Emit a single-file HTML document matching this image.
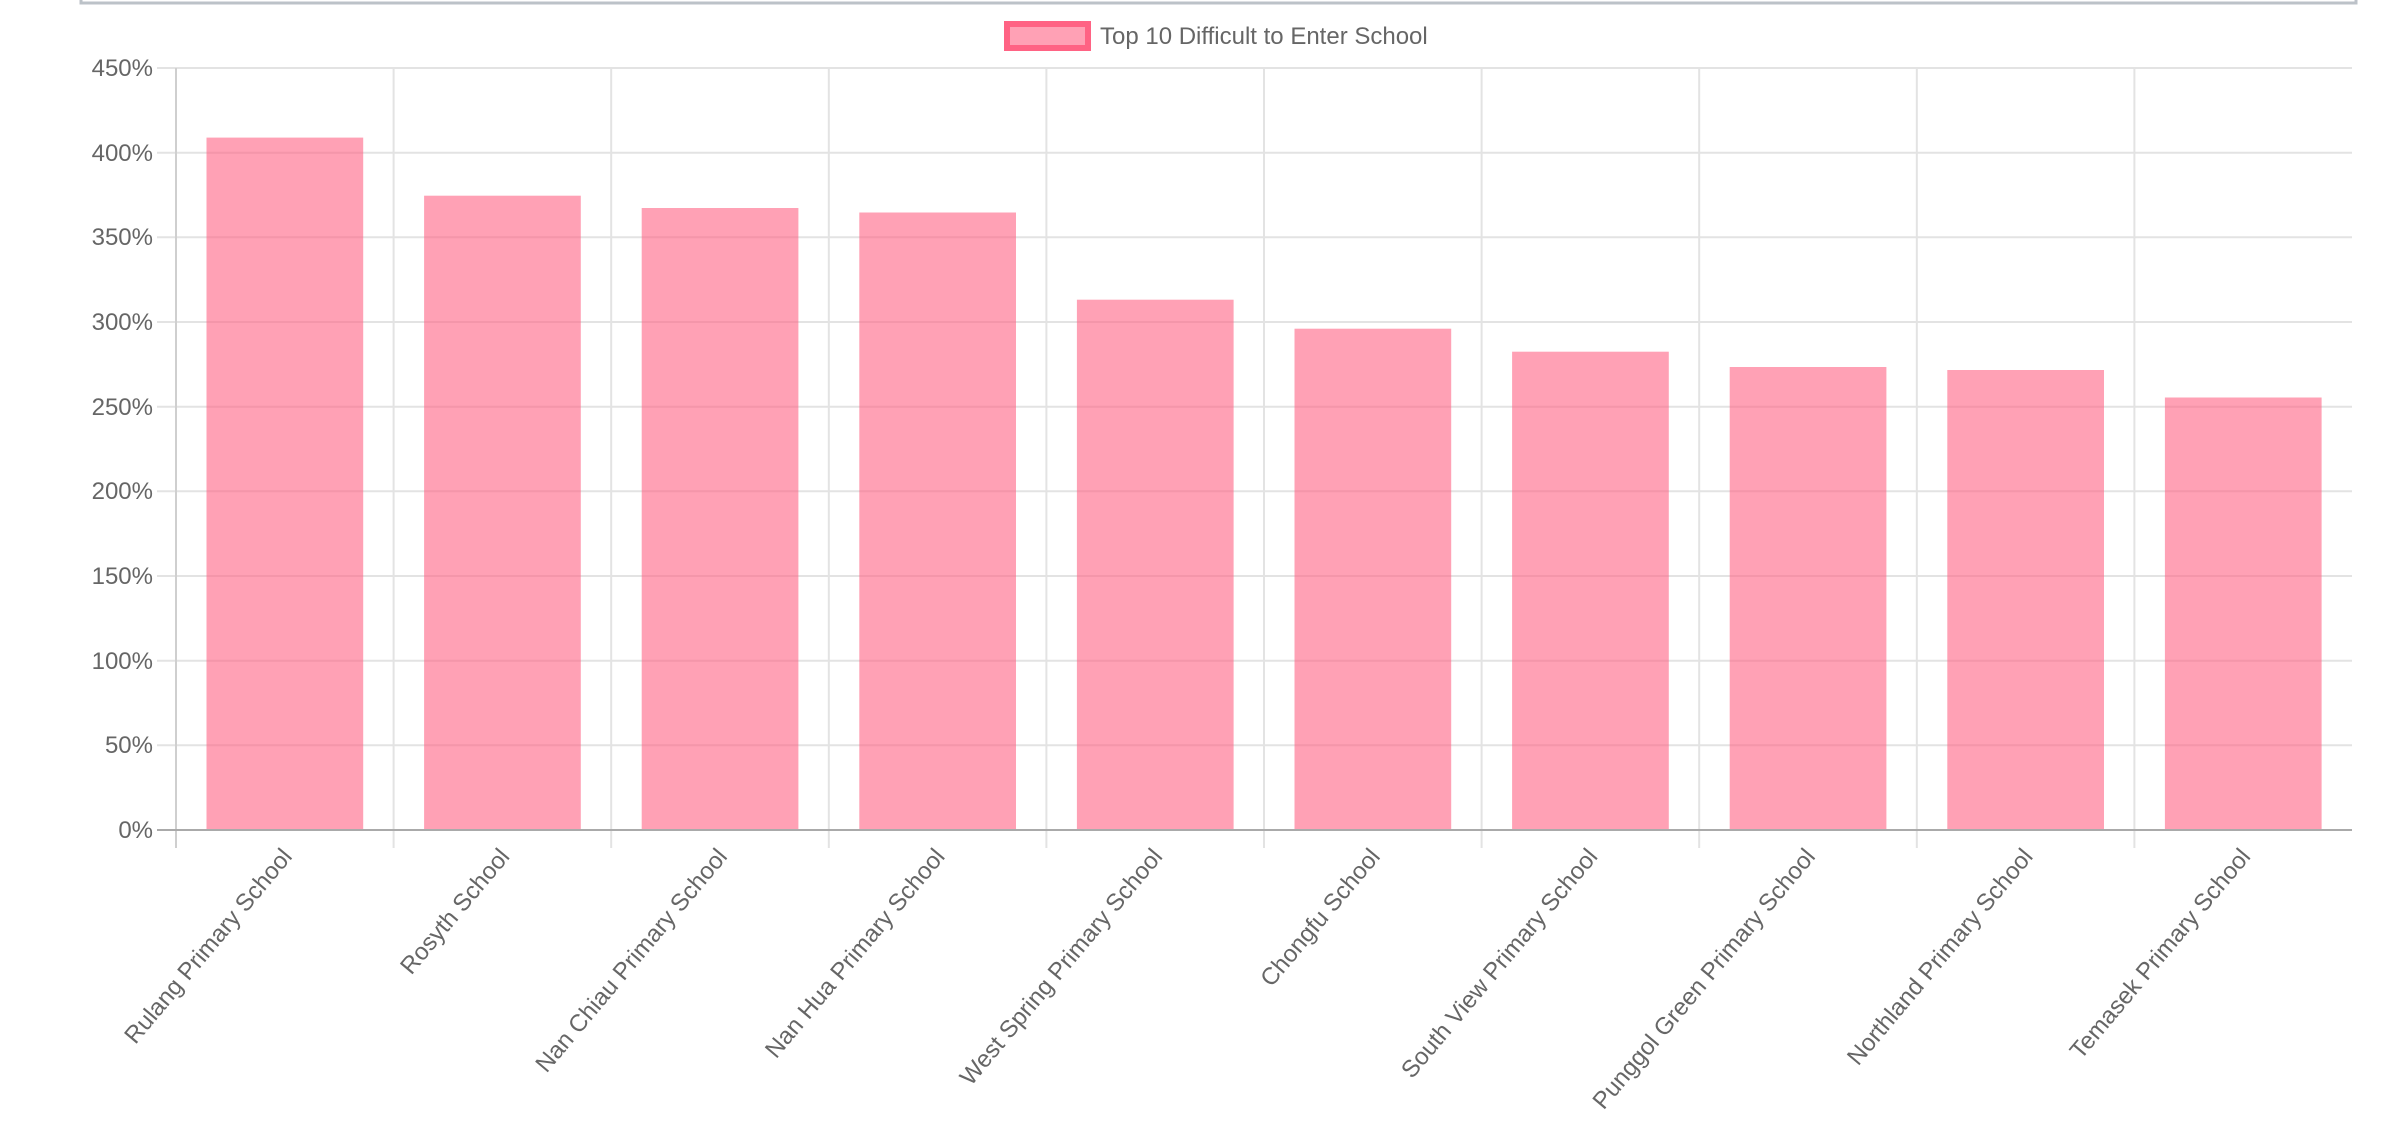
<!DOCTYPE html>
<html><head><meta charset="utf-8"><style>
html,body{margin:0;padding:0;background:#fff;}
svg{display:block;font-family:"Liberation Sans",Arial,sans-serif;}
</style></head><body>
<svg width="2398" height="1134" viewBox="0 0 2398 1134" xmlns="http://www.w3.org/2000/svg">
<rect x="81" y="-10" width="2275" height="13" fill="none" stroke="#bcc2c8" stroke-width="3"/>
<rect x="1007" y="24" width="81" height="24" fill="rgba(255,99,132,0.6)" stroke="rgb(255,99,132)" stroke-width="6"/>
<text x="1100" y="44" font-size="24" fill="#666">Top 10 Difficult to Enter School</text>
<g stroke="#e3e3e3" stroke-width="2">
<line x1="157" y1="68" x2="2352" y2="68"/>
<line x1="157" y1="152.7" x2="2352" y2="152.7"/>
<line x1="157" y1="237.3" x2="2352" y2="237.3"/>
<line x1="157" y1="322" x2="2352" y2="322"/>
<line x1="157" y1="406.7" x2="2352" y2="406.7"/>
<line x1="157" y1="491.3" x2="2352" y2="491.3"/>
<line x1="157" y1="576" x2="2352" y2="576"/>
<line x1="157" y1="660.7" x2="2352" y2="660.7"/>
<line x1="157" y1="745.3" x2="2352" y2="745.3"/>
</g>
<g stroke="#e3e3e3" stroke-width="2">
<line x1="393.6" y1="68" x2="393.6" y2="848"/>
<line x1="611.2" y1="68" x2="611.2" y2="848"/>
<line x1="828.8" y1="68" x2="828.8" y2="848"/>
<line x1="1046.4" y1="68" x2="1046.4" y2="848"/>
<line x1="1264" y1="68" x2="1264" y2="848"/>
<line x1="1481.6" y1="68" x2="1481.6" y2="848"/>
<line x1="1699.2" y1="68" x2="1699.2" y2="848"/>
<line x1="1916.8" y1="68" x2="1916.8" y2="848"/>
<line x1="2134.4" y1="68" x2="2134.4" y2="848"/>
</g>
<line x1="176" y1="68" x2="176" y2="848" stroke="#cfcfcf" stroke-width="2"/>
<g fill="rgba(255,99,132,0.6)">
<rect x="206.5" y="137.6" width="156.7" height="692.4"/>
<rect x="424.1" y="195.7" width="156.7" height="634.3"/>
<rect x="641.7" y="208" width="156.7" height="622"/>
<rect x="859.3" y="212.5" width="156.7" height="617.5"/>
<rect x="1076.9" y="299.7" width="156.7" height="530.3"/>
<rect x="1294.5" y="328.7" width="156.7" height="501.3"/>
<rect x="1512.1" y="351.7" width="156.7" height="478.3"/>
<rect x="1729.7" y="367" width="156.7" height="463"/>
<rect x="1947.3" y="370" width="156.7" height="460"/>
<rect x="2164.9" y="397.5" width="156.7" height="432.5"/>
</g>
<line x1="157" y1="830" x2="2352" y2="830" stroke="#aaa" stroke-width="2"/>
<g font-size="24" fill="#666" text-anchor="end">
<text x="153" y="76">450%</text>
<text x="153" y="161">400%</text>
<text x="153" y="245">350%</text>
<text x="153" y="330">300%</text>
<text x="153" y="415">250%</text>
<text x="153" y="499">200%</text>
<text x="153" y="584">150%</text>
<text x="153" y="669">100%</text>
<text x="153" y="753">50%</text>
<text x="153" y="838">0%</text>
</g>
<g font-size="24" fill="#666" text-anchor="end">
<text transform="translate(287,852) rotate(-50)" dy="8">Rulang Primary School</text>
<text transform="translate(504.6,852) rotate(-50)" dy="8">Rosyth School</text>
<text transform="translate(722.2,852) rotate(-50)" dy="8">Nan Chiau Primary School</text>
<text transform="translate(939.8,852) rotate(-50)" dy="8">Nan Hua Primary School</text>
<text transform="translate(1157.4,852) rotate(-50)" dy="8">West Spring Primary School</text>
<text transform="translate(1375,852) rotate(-50)" dy="8">Chongfu School</text>
<text transform="translate(1592.6,852) rotate(-50)" dy="8">South View Primary School</text>
<text transform="translate(1810.2,852) rotate(-50)" dy="8">Punggol Green Primary School</text>
<text transform="translate(2027.8,852) rotate(-50)" dy="8">Northland Primary School</text>
<text transform="translate(2245.4,852) rotate(-50)" dy="8">Temasek Primary School</text>
</g>
</svg>
</body></html>
